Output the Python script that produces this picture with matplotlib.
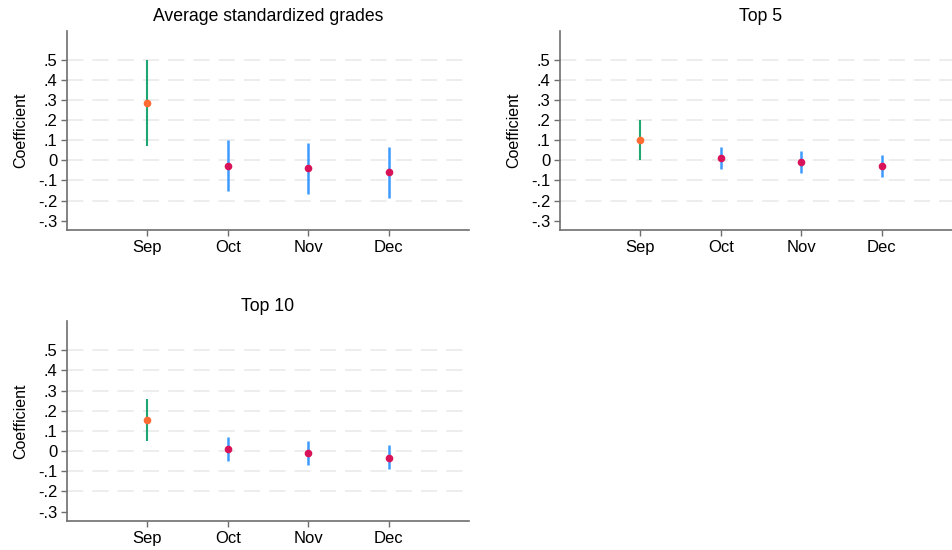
import matplotlib
matplotlib.use("Agg")
import matplotlib.pyplot as plt
import numpy as np

plt.rcParams['font.family'] = ['Liberation Sans', 'DejaVu Sans']

months = ['Sep', 'Oct', 'Nov', 'Dec']
yticks = [-0.3, -0.2, -0.1, 0, 0.1, 0.2, 0.3, 0.4, 0.5]
ytick_labels = ['-.3', '-.2', '-.1', '0', '.1', '.2', '.3', '.4', '.5']

titles = ['Average standardized grades', 'Top 5', 'Top 10']

# point estimates and 95% CI bounds for each panel
avg_coef = [0.286, -0.027, -0.040, -0.060]
avg_lo = [0.071, -0.154, -0.169, -0.189]
avg_hi = [0.500, 0.100, 0.088, 0.068]

top5_coef = [0.101, 0.012, -0.010, -0.027]
top5_lo = [0.002, -0.045, -0.065, -0.083]
top5_hi = [0.201, 0.066, 0.046, 0.028]

top10_coef = [0.153, 0.008, -0.010, -0.032]
top10_lo = [0.048, -0.051, -0.070, -0.091]
top10_hi = [0.257, 0.068, 0.048, 0.028]

coefs = [avg_coef, top5_coef, top10_coef]
los = [avg_lo, top5_lo, top10_lo]
his = [avg_hi, top5_hi, top10_hi]

fig = plt.figure(figsize=(9.53, 5.5), dpi=100)
positions = [
    [0.0703, 0.5818, 0.4218, 0.3618],
    [0.5876, 0.5818, 0.4218, 0.3618],
    [0.0703, 0.0527, 0.4218, 0.3636],
]

green = '#1ea673'
orange = '#ff6b33'
blue = '#3d9bff'
pink = '#d8135a'
axcol = '#6e6e6e'

for i in range(3):
    ax = fig.add_axes(positions[i])
    x = np.arange(1, 5)
    for j in range(4):
        lc = green if j == 0 else blue
        lw = 1.5 if j == 0 else 1.8
        mc = orange if j == 0 else pink
        ax.plot([x[j], x[j]], [los[i][j], his[i][j]], color=lc, lw=lw,
                solid_capstyle='butt', zorder=3)
        ax.plot(x[j], coefs[i][j], 'o', color=mc, ms=5.5, mec='none', zorder=4)
    for t in yticks[1:]:
        ax.axhline(t, color='#ececec', lw=1.3, dashes=(9, 5), zorder=1)
    ax.set_xlim(0, 5)
    ax.set_ylim(-0.347, 0.645)
    ax.set_xticks(x)
    ax.set_xticklabels(months)
    ax.set_yticks(yticks)
    ax.set_yticklabels(ytick_labels)
    ax.tick_params(axis='both', labelsize=12, color=axcol, length=4.5, width=1,
                   pad=2.5)
    for s in ['top', 'right']:
        ax.spines[s].set_visible(False)
    for s in ['left', 'bottom']:
        ax.spines[s].set_color(axcol)
        ax.spines[s].set_linewidth(1.2)
    ax.set_ylabel('Coefficient', fontsize=11.5, labelpad=7)
    ax.set_title(titles[i], fontsize=12.7, pad=7)

plt.savefig('out.png', dpi=100)
